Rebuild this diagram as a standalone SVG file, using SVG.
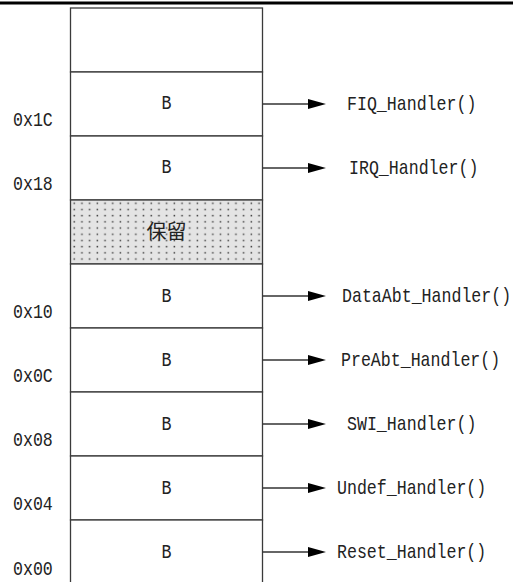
<svg xmlns="http://www.w3.org/2000/svg" width="513" height="582" viewBox="0 0 513 582">
<style>
.cell{fill:#fff;stroke:#3a3a3a;stroke-width:1.3}
.t{font-family:"Liberation Mono","DejaVu Sans Mono",monospace;font-size:16.6px;fill:#222}
.c{text-anchor:middle}
.conn line{stroke:#333;stroke-width:1.3}
.conn polygon{fill:#000}
</style>
<defs>
<pattern id="dots" width="7.7" height="6.2" patternUnits="userSpaceOnUse" x="71" y="200">
<rect width="7.7" height="6.2" fill="#e4e4e4"/>
<rect x="2.5" y="2.5" width="1.5" height="1.5" fill="#444"/>
</pattern>
</defs>
<rect width="513" height="582" fill="#fff"/>
<rect x="0" y="1.5" width="513" height="3" fill="#000"/>
<g id="row-top"><rect class="cell" x="70.5" y="8" width="192" height="64"/></g>
<g id="row-fiq"><rect class="cell" x="70.5" y="72" width="192" height="64"/><text class="t c" transform="translate(166.5,109) scale(1,1.25)">B</text><text class="t" transform="translate(13,126) scale(1,1.25)">0x1C</text></g>
<g id="row-irq"><rect class="cell" x="70.5" y="136" width="192" height="64"/><text class="t c" transform="translate(166.5,173) scale(1,1.25)">B</text><text class="t" transform="translate(13,189.5) scale(1,1.25)">0x18</text></g>
<g id="row-reserved"><rect class="cell" x="70.5" y="200" width="192" height="64" style="fill:url(#dots)"/><text x="166.5" y="238.5" text-anchor="middle" font-family="'Noto Sans CJK SC',sans-serif" font-size="20" fill="#222">保留</text></g>
<g id="row-dataabt"><rect class="cell" x="70.5" y="264" width="192" height="64"/><text class="t c" transform="translate(166.5,301.5) scale(1,1.25)">B</text><text class="t" transform="translate(13,317.5) scale(1,1.25)">0x10</text></g>
<g id="row-preabt"><rect class="cell" x="70.5" y="328" width="192" height="64"/><text class="t c" transform="translate(166.5,365.5) scale(1,1.25)">B</text><text class="t" transform="translate(13,381.5) scale(1,1.25)">0x0C</text></g>
<g id="row-swi"><rect class="cell" x="70.5" y="392" width="192" height="64"/><text class="t c" transform="translate(166.5,429.5) scale(1,1.25)">B</text><text class="t" transform="translate(13,445.5) scale(1,1.25)">0x08</text></g>
<g id="row-undef"><rect class="cell" x="70.5" y="456" width="192" height="64"/><text class="t c" transform="translate(166.5,493.5) scale(1,1.25)">B</text><text class="t" transform="translate(13,509.5) scale(1,1.25)">0x04</text></g>
<g id="row-reset"><rect class="cell" x="70.5" y="520" width="192" height="70"/><text class="t c" transform="translate(166.5,557.5) scale(1,1.25)">B</text><text class="t" transform="translate(13,575) scale(1,1.25)">0x00</text></g>
<g id="connectors" class="conn">
<line x1="262.5" y1="104" x2="310" y2="104"/><polygon points="308,99 326,104 308,109"/>
<line x1="262.5" y1="168" x2="310" y2="168"/><polygon points="308,163 326,168 308,173"/>
<line x1="262.5" y1="296" x2="310" y2="296"/><polygon points="308,291 326,296 308,301"/>
<line x1="262.5" y1="360" x2="310" y2="360"/><polygon points="308,355 326,360 308,365"/>
<line x1="262.5" y1="424" x2="310" y2="424"/><polygon points="308,419 326,424 308,429"/>
<line x1="262.5" y1="488" x2="310" y2="488"/><polygon points="308,483 326,488 308,493"/>
<line x1="262.5" y1="552" x2="310" y2="552"/><polygon points="308,547 326,552 308,557"/>
</g>
<g id="handlers">
<text class="t" transform="translate(347,110) scale(1,1.25)">FIQ_Handler()</text>
<text class="t" transform="translate(349,174) scale(1,1.25)">IRQ_Handler()</text>
<text class="t" transform="translate(342,302) scale(1,1.25)">DataAbt_Handler()</text>
<text class="t" transform="translate(341,366) scale(1,1.25)">PreAbt_Handler()</text>
<text class="t" transform="translate(347,430) scale(1,1.25)">SWI_Handler()</text>
<text class="t" transform="translate(337,494) scale(1,1.25)">Undef_Handler()</text>
<text class="t" transform="translate(337,558) scale(1,1.25)">Reset_Handler()</text>
</g>
</svg>
